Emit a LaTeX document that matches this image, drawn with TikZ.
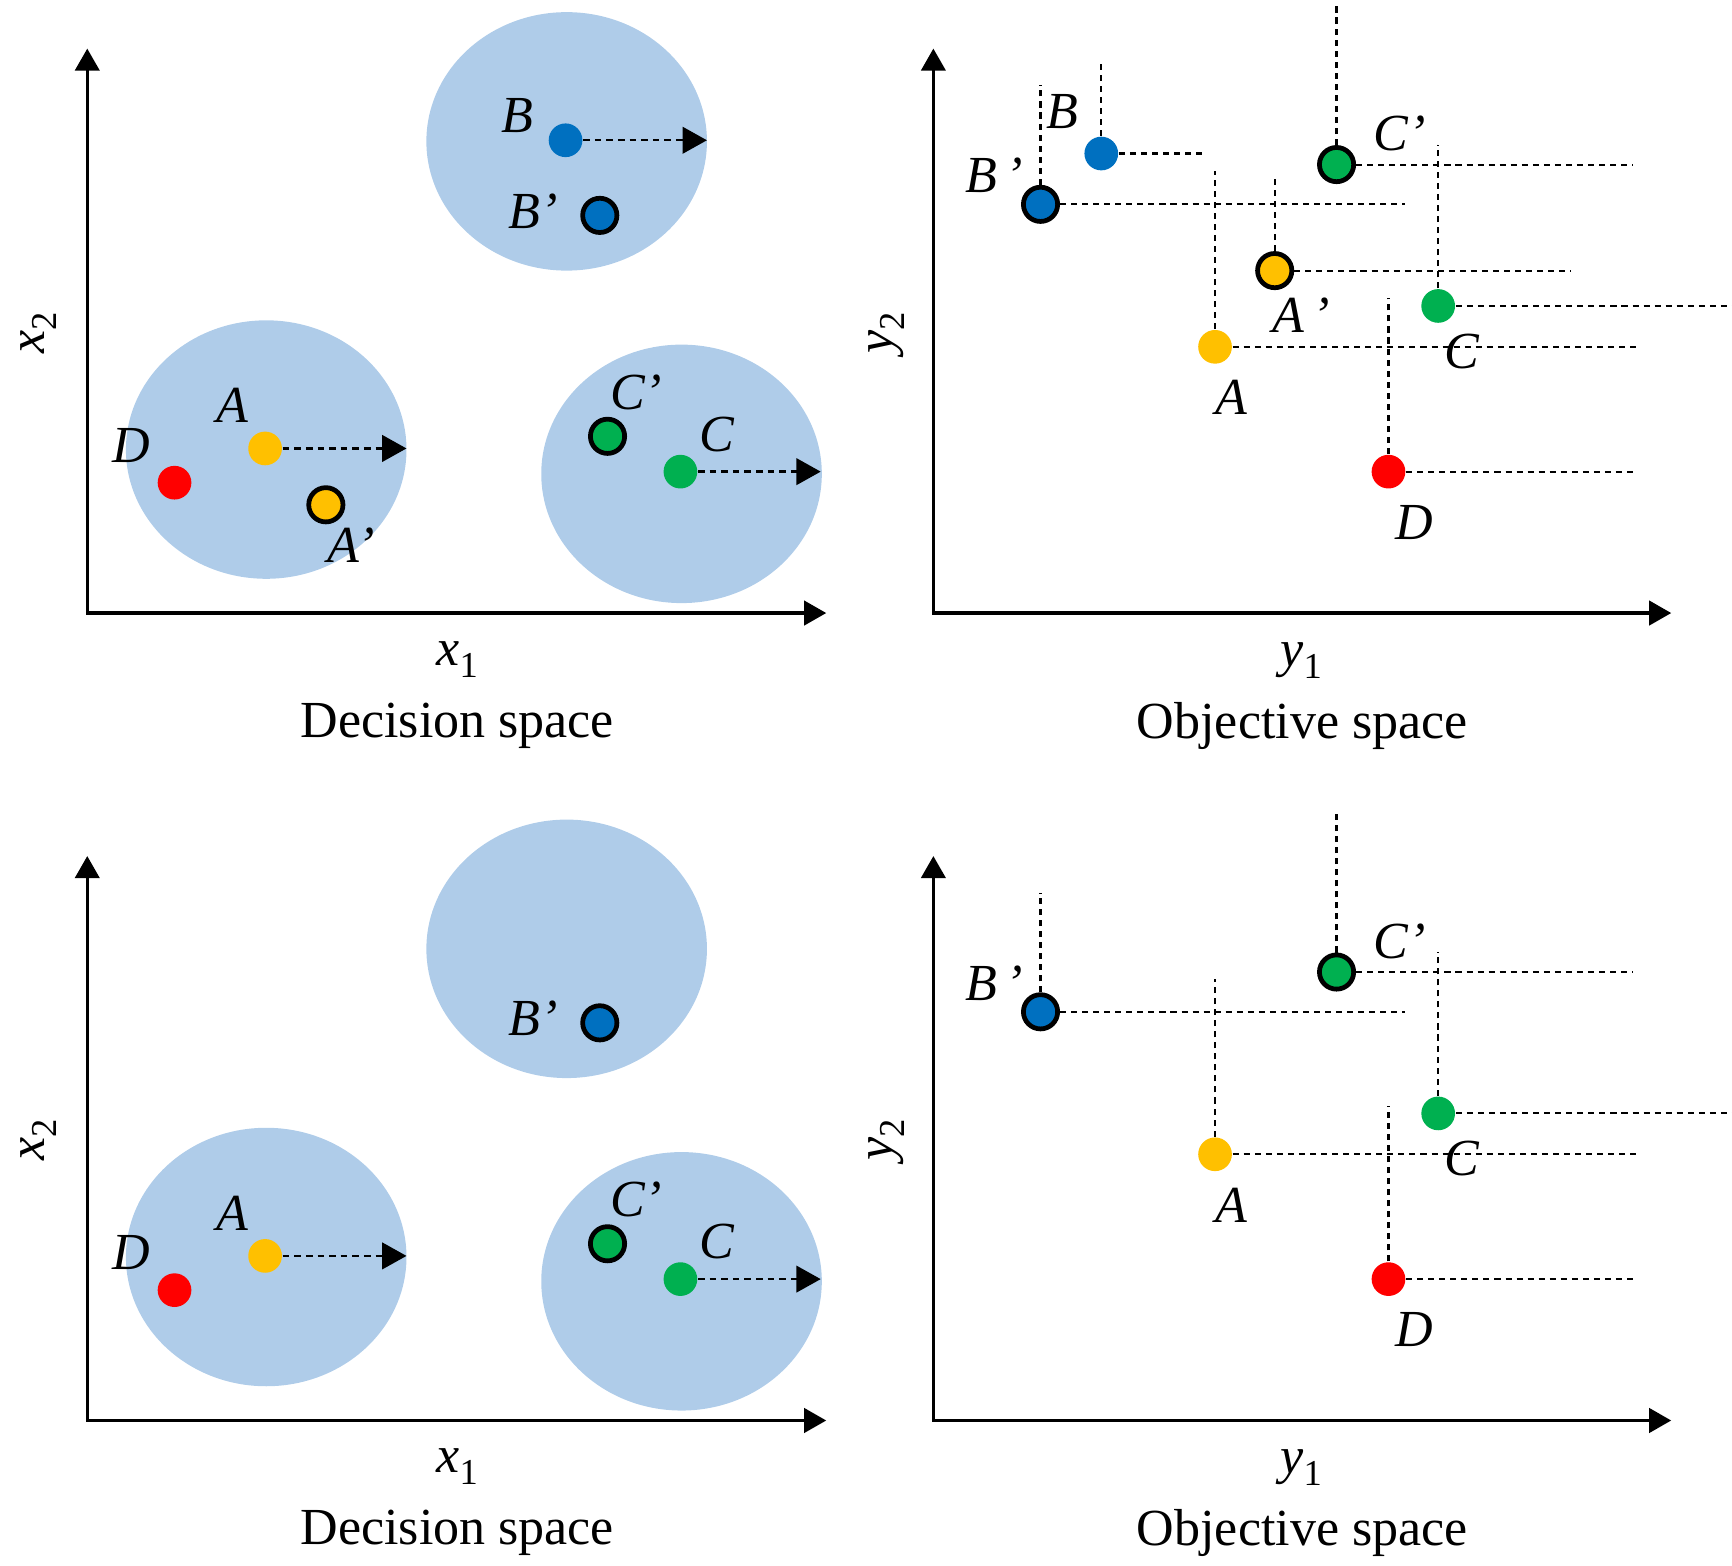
\documentclass[tikz,border=0pt]{standalone}
\usepackage{fontspec}
\setmainfont{Liberation Serif}
\usetikzlibrary{arrows.meta}

\definecolor{cloud}{RGB}{175,204,233}
\definecolor{ptblue}{RGB}{0,112,192}
\definecolor{ptyellow}{RGB}{255,192,0}
\definecolor{ptgreen}{RGB}{0,176,80}
\definecolor{ptred}{RGB}{255,0,0}

\newcommand{\figfont}{\fontsize{13.4}{16}\selectfont}
\newcommand{\axsub}[1]{\raisebox{-0.5ex}{\fontsize{9.4}{10}\selectfont #1}}

\tikzset{
  axes/.style={line width=0.3mm,{Triangle[length=2mm,width=2.2mm]}-{Triangle[length=2mm,width=2.2mm]}},
  guide/.style={line width=0.55pt,dash pattern=on 0.55mm off 0.45mm},
  move/.style={line width=0.6pt,dash pattern=on 0.6mm off 0.45mm,-{Triangle[length=2.2mm,width=2.4mm]}},
  dot/.style={circle,fill=#1,inner sep=0pt,minimum size=3.05mm},
  ringdot/.style={circle,fill=#1,draw=black,line width=0.43mm,inner sep=0pt,minimum size=3.1mm},
  lab/.style={font=\figfont\itshape,inner sep=0pt}
}

\begin{document}
\begin{tikzpicture}[x=0.1mm,y=-0.1mm,font=\figfont]
  \useasboundingbox (0,0) rectangle (1568,1417);

  % the two rows share the same axes, clouds and points
  \foreach \r/\dy in {t/0,b/731}{
    \begin{scope}[shift={(0,\dy)}]
      % decision space
      \fill[cloud] (513,128) ellipse [x radius=12.7mm,y radius=11.7mm];
      \fill[cloud] (241,407) ellipse [x radius=12.7mm,y radius=11.7mm];
      \fill[cloud] (617,429) ellipse [x radius=12.7mm,y radius=11.7mm];

      \coordinate (dO\r) at (79,555);
      \coordinate (dX\r) at (748,555);
      \coordinate (dY\r) at (79,44);
      \draw[axes] (dY\r) -- (dO\r) -- (dX\r);
      \node[rotate=90] (dx2\r) at (35,301) {\textit{x}\axsub{2}};
      \node (dx1\r) at (414,597) {\textit{x}\axsub{1}};
      \node (dcap\r) at (414,657) {Decision space};

      \node[dot=ptred] (dD\r) at (158,437) {};
      \node[dot=ptyellow] (dA\r) at (240,406) {};
      \node[ringdot=ptgreen] (dCp\r) at (550,395) {};
      \node[dot=ptgreen] (dC\r) at (616,427) {};
      \node[ringdot=ptblue] (dBp\r) at (543,195) {};
      \coordinate (dAend\r) at (368,406);
      \coordinate (dCend\r) at (743,427);
      \draw[move] (dA\r) -- (dAend\r);
      \draw[move] (dC\r) -- (dCend\r);

      \node[lab] (dDlab\r) at (119,403) {D};
      \node[lab] (dAlab\r) at (210,367) {A};
      \node[lab] (dCplab\r) at (576,355) {C’};
      \node[lab] (dClab\r) at (649,393) {C};
      \node[lab] (dBplab\r) at (483,191) {B’};

      % objective space
      \coordinate (oO\r) at (845,555);
      \coordinate (oX\r) at (1513,555);
      \coordinate (oY\r) at (845,44);
      \draw[axes] (oY\r) -- (oO\r) -- (oX\r);
      \node[rotate=90] (oy2\r) at (803,301) {\textit{y}\axsub{2}};
      \node (oy1\r) at (1178,598) {\textit{y}\axsub{1}};
      \node (ocap\r) at (1179,657) {Objective space};

      \node[ringdot=ptblue] (oBp\r) at (942,185) {};
      \node[ringdot=ptgreen] (oCp\r) at (1210,149) {};
      \node[dot=ptgreen] (oC\r) at (1302,277) {};
      \node[dot=ptyellow] (oA\r) at (1100,314) {};
      \node[dot=ptred] (oD\r) at (1257,427) {};
      \foreach \n/\top/\right in {Bp/77/1272, Cp/3/1478, C/131/1568, A/155/1483, D/270/1478}{
        \coordinate (o\n\r-up) at (o\n\r |- 0,\top);
        \coordinate (o\n\r-out) at (o\n\r -| \right,0);
        \draw[guide] (o\n\r) -- (o\n\r-up);
        \draw[guide] (o\n\r) -- (o\n\r-out);
      }

      \node[lab] (oBplab\r) at (900,159) {B\,’};
      \node[lab] (oCplab\r) at (1267,121) {C’};
      \node[lab] (oClab\r) at (1323,318) {C};
      \node[lab] (oAlab\r) at (1115,360) {A};
      \node[lab] (oDlab\r) at (1280,473) {D};
    \end{scope}
  }

  % points of the first row only
  \node[dot=ptblue] (dB) at (512,127) {};
  \coordinate (dBend) at (640,127);
  \draw[move] (dB) -- (dBend);
  \node[lab] (dBlab) at (468,105) {B};
  \node[ringdot=ptyellow] (dAp) at (295,457) {};
  \node[lab] (dAplab) at (318,494) {A’};

  \node[dot=ptblue] (oB) at (997,139) {};
  \node[ringdot=ptyellow] (oAp) at (1154,245) {};
  \foreach \n/\top/\right in {B/56/1090, Ap/162/1422}{
    \coordinate (o\n-up) at (o\n |- 0,\top);
    \coordinate (o\n-out) at (o\n -| \right,0);
    \draw[guide] (o\n) -- (o\n-up);
    \draw[guide] (o\n) -- (o\n-out);
  }
  \node[lab] (oBlab) at (962,101) {B};
  \node[lab] (oAplab) at (1178,285) {A\,’};
\end{tikzpicture}
\end{document}
